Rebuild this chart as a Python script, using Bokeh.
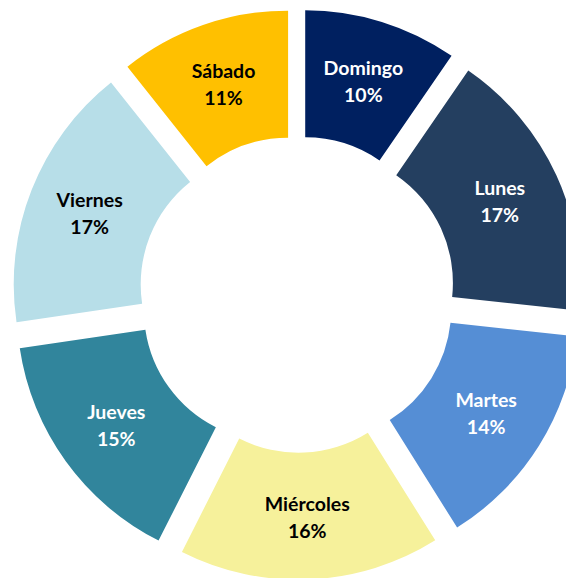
import math
from bokeh.plotting import figure
from bokeh.models import Range1d, ColumnDataSource
from bokeh.core.properties import value
from bokeh.embed import file_html
from bokeh.resources import INLINE

days = ["Domingo", "Lunes", "Martes", "Miércoles", "Jueves", "Viernes", "Sábado"]
shares = [9.6, 17.1, 14.4, 16.35, 15.2, 16.65, 10.7]
colors = ["#002060", "#243F60", "#558ED5", "#F6F19B", "#31859C", "#B7DEE8", "#FFC000"]
label_colors = ["white", "white", "white", "black", "white", "black", "black"]

# geometry (pixels)
R_OUT = 258
R_IN = 131
EXPLODE = 27.3
LABEL_R = 223
CX, CY = 296.6, 293.9   # centre in page pixels
X0, Y0 = 0, 0           # page offset of the figure
W, H = 566, 578

total = float(sum(shares))
starts, ends, xs, ys, lx, ly, names, pcts = [], [], [], [], [], [], [], []
cum = 0.0
for d, s in zip(days, shares):
    a0 = cum / total * 2 * math.pi
    cum += s
    a1 = cum / total * 2 * math.pi
    mid = (a0 + a1) / 2
    starts.append(math.pi / 2 - a0)
    ends.append(math.pi / 2 - a1)
    xs.append(EXPLODE * math.sin(mid))
    ys.append(EXPLODE * math.cos(mid))
    lx.append(LABEL_R * math.sin(mid))
    ly.append(LABEL_R * math.cos(mid))
    names.append(d)
    pcts.append(f"{round(s / total * 100)}%")

src = ColumnDataSource(dict(x=xs, y=ys, start=starts, end=ends, color=colors,
                            lx=lx, ly=ly, name=names, pct=pcts, lc=label_colors))

p = figure(width=W, height=H, output_backend="svg", toolbar_location=None,
           x_range=Range1d(X0 - CX, X0 + W - CX), y_range=Range1d(CY - Y0 - H, CY - Y0),
           x_axis_type=None, y_axis_type=None, min_border=0)
p.outline_line_color = None
p.grid.visible = False
p.background_fill_color = "white"
p.border_fill_color = "white"

p.annular_wedge(x="x", y="y", inner_radius=R_IN, outer_radius=R_OUT,
                start_angle="start", end_angle="end", direction="clock",
                fill_color="color", line_color=None, source=src)

common = dict(text_font=value("Lato"), text_font_style="bold", text_font_size="19.5px",
              text_align="center", text_baseline="middle", text_color="lc", source=src)
p.text(x="lx", y="ly", text="name", y_offset=-13.5, **common)
p.text(x="lx", y="ly", text="pct", y_offset=13.5, **common)

open("out.html", "w").write(file_html(p, INLINE))
